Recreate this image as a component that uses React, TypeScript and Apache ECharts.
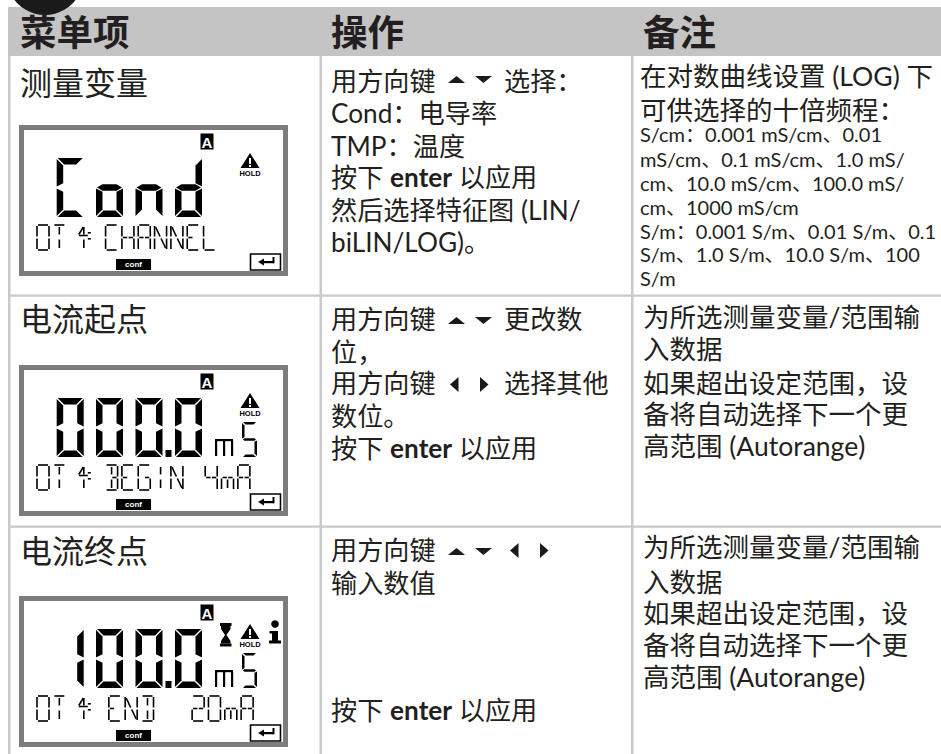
import React, { useEffect, useRef } from "react";
import * as echarts from "echarts";

const headers = ["菜单项", "操作", "备注"];
const itemNames = ["测量变量", "电流起点", "电流终点"];

const opRow1 = ["用方向键", "选择：", "Cond：电导率", "TMP：温度", "按下 {b|enter} 以应用", "然后选择特征图 (LIN/", "biLIN/LOG)。"];
const opRow2 = ["用方向键", "更改数", "位，", "用方向键", "选择其他", "数位。", "按下 {b|enter} 以应用"];
const opRow3 = ["用方向键", "输入数值", "按下 {b|enter} 以应用"];

const noteRow1Large = ["在对数曲线设置 (LOG) 下", "可供选择的十倍频程："];
const noteRow1Small = [
  "S/cm：0.001 mS/cm、0.01",
  "mS/cm、0.1 mS/cm、1.0 mS/",
  "cm、10.0 mS/cm、100.0 mS/",
  "cm、1000 mS/cm",
  "S/m：0.001 S/m、0.01 S/m、0.1",
  "S/m、1.0 S/m、10.0 S/m、100",
  "S/m",
];
const noteRange = ["为所选测量变量/范围输", "入数据", "如果超出设定范围，设", "备将自动选择下一个更", "高范围 (Autorange)"];

const bigChars = ["Cond", "0000", "1000"];
const smallLines: [string, number][][] = [
  [["O", 0], ["T", 1], ["1", 2.5], ["C", 4.2], ["H", 5.2], ["A", 6.2], ["N", 7.2], ["N", 8.2], ["E", 9.2], ["L", 10.2]],
  [["O", 0], ["T", 1], ["1", 2.5], ["B", 4.2], ["E", 5.2], ["G", 6.2], ["I", 7.2], ["N", 8.2], ["4", 10.3], ["m", 11.3], ["A", 12.3]],
  [["O", 0], ["T", 1], ["1", 2.5], ["E", 4.4], ["N", 5.4], ["D", 6.4], ["2", 9.5], ["0", 10.5], ["m", 11.5], ["A", 12.5]],
];

const INK = "#231f20";
const FONT = 'Lato,"Noto Sans CJK SC",sans-serif';
const RULE = "#c9c9c9";

const bigSegs: Record<string, string[]> = {
  C: ["a", "f", "e", "d"],
  o: ["g", "e", "c", "d"],
  n: ["g", "e", "c"],
  d: ["b", "c", "g", "e", "d"],
  "0": ["a", "b", "c", "d", "e", "f"],
  "1": ["b", "c"],
  S: ["a", "f", "g", "c", "d"],
};
const smallSegs: Record<string, string[]> = {
  O: ["a", "b", "c", "d", "e", "f"],
  "0": ["a", "b", "c", "d", "e", "f"],
  T: ["a", "j", "k"],
  "1": ["j", "k", "n", "p"],
  C: ["a", "f", "e", "d"],
  H: ["f", "e", "b", "c", "g", "h"],
  A: ["a", "f", "e", "b", "c", "g", "h"],
  N: ["f", "e", "b", "c", "q", "r"],
  E: ["a", "f", "e", "d", "g"],
  L: ["f", "e", "d"],
  B: ["a", "b", "c", "d", "h", "j", "k"],
  D: ["a", "b", "c", "d", "j", "k"],
  G: ["a", "f", "e", "d", "c", "h"],
  I: ["j", "k"],
  "4": ["f", "g", "h", "b", "c"],
  "2": ["a", "b", "g", "h", "e", "d"],
  m: ["g", "h", "e", "k", "c"],
};

function text(x: number, y: number, s: string, fontSize: number, extra: any = {}) {
  return {
    type: "text",
    x,
    y,
    silent: true,
    style: {
      text: s,
      fill: INK,
      fontSize,
      fontFamily: FONT,
      verticalAlign: "middle",
      rich: { b: { fontWeight: "bold", fontSize, fontFamily: FONT, fill: INK } },
      ...extra,
    },
  };
}
const rect = (x: number, y: number, width: number, height: number, fill: string) => ({
  type: "rect",
  silent: true,
  shape: { x, y, width, height },
  style: { fill },
});
const poly = (pts: number[][], fill = "#000") => ({
  type: "polygon",
  silent: true,
  shape: { points: pts },
  style: { fill },
});
const seg = (x1: number, y1: number, x2: number, y2: number, w = 1.6) => ({
  type: "line",
  silent: true,
  shape: { x1, y1, x2, y2 },
  style: { stroke: "#000", lineWidth: w },
});

function bigDigit(ch: string, x0: number, y0: number, w: number, h: number, t: number) {
  const m = h / 2;
  const shapes: Record<string, number[][]> = {
    a: [[1, 0], [w - 1, 0], [w - t - 1, t], [t + 1, t]],
    f: [[0, 1], [t, t + 1], [t, m - t / 2 - 1], [0, m - 1]],
    b: [[w, 1], [w - t, t + 1], [w - t, m - t / 2 - 1], [w, m - 1]],
    g: [[1, m], [t, m - t / 2], [w - t, m - t / 2], [w - 1, m], [w - t, m + t / 2], [t, m + t / 2]],
    e: [[0, m + 1], [t, m + t / 2 + 1], [t, h - t - 1], [0, h - 1]],
    c: [[w, m + 1], [w - t, m + t / 2 + 1], [w - t, h - t - 1], [w, h - 1]],
    d: [[t + 1, h - t], [w - t - 1, h - t], [w - 1, h], [1, h]],
  };
  return (bigSegs[ch] || []).map((k) => poly(shapes[k].map(([x, y]) => [x0 + x, y0 + y])));
}

function smallGlyph(ch: string, x: number, y: number) {
  const w = 12, h = 25, m = h / 2, c = w / 2;
  const lines: Record<string, number[]> = {
    a: [1, 0, w - 1, 0],
    f: [0, 1, 0, m - 1],
    b: [w, 1, w, m - 1],
    g: [1, m, c - 0.7, m],
    h: [c + 0.7, m, w - 1, m],
    e: [0, m + 1, 0, h - 1],
    c: [w, m + 1, w, h - 1],
    d: [1, h, w - 1, h],
    j: [c, 2, c, m - 3],
    k: [c, m + 2, c, h - 2],
    n: [c - 5, m - 3, c - 0.5, 2],
    p: [c - 5, m - 2, c + 4, m - 2],
    q: [1, 2, c - 0.5, m - 1],
    r: [c + 0.5, m + 1, w - 1, h - 2],
  };
  return (smallSegs[ch] || []).map((k) => {
    const l = lines[k];
    return seg(x + l[0], y + l[1], x + l[2], y + l[3]);
  });
}

function lcd(index: number, top: number) {
  const els: any[] = [];
  els.push({
    type: "rect",
    silent: true,
    shape: { x: 21.5, y: top + 2.5, width: 264, height: 146 },
    style: { fill: "#fff", stroke: "#7c7c7c", lineWidth: 5 },
  });
  const digitX = [56.7, 96, 135.5, 175];
  bigChars[index].split("").forEach((ch, i) => els.push(...bigDigit(ch, digitX[i], top + 33, 27, 59, 6.5)));
  if (index > 0) {
    els.push(rect(165.5, top + 85, 6, 7, "#000"));
    els.push(...bigDigit("S", 242, top + 57, 15, 35, 2.5));
    els.push(rect(215, top + 74, 18, 2.2, "#000"));
    els.push(rect(215, top + 76, 2.2, 15, "#000"));
    els.push(rect(223, top + 76, 2.2, 15, "#000"));
    els.push(rect(231, top + 76, 2.2, 15, "#000"));
  }
  smallLines[index].forEach(([ch, slot]) => {
    const x = 37 + slot * 16.33;
    els.push(...smallGlyph(ch, x, top + 100));
    if (ch === "1") {
      els.push(rect(x + 10, top + 107, 3, 1.6, "#000"));
      els.push(rect(x + 10, top + 113, 3, 1.6, "#000"));
    }
  });
  els.push(rect(200.5, top + 8.5, 13, 16, "#000"));
  els.push(text(207, top + 17, "A", 15, { fill: "#fff", fontWeight: "bold", align: "center", fontFamily: '"Liberation Sans",sans-serif' }));
  els.push(poly([[250, top + 28], [259.5, top + 43], [240.5, top + 43]]));
  els.push(rect(249, top + 33, 2, 6, "#fff"));
  els.push(rect(249, top + 40, 2, 2, "#fff"));
  els.push(text(250, top + 48, "HOLD", 7.5, { fill: "#000", fontWeight: "bold", align: "center", fontFamily: '"Liberation Sans",sans-serif' }));
  els.push(rect(116, top + 134, 35, 11, "#000"));
  els.push(text(133.5, top + 139.5, "conf", 8, { fill: "#fff", fontWeight: "bold", align: "center", fontFamily: '"Liberation Sans",sans-serif' }));
  els.push({
    type: "rect",
    silent: true,
    shape: { x: 250.5, y: top + 129, width: 30, height: 16 },
    style: { fill: "#fff", stroke: "#000", lineWidth: 1.6 },
  });
  els.push(poly([[258, top + 137], [264, top + 133.5], [264, top + 140.5]]));
  els.push(rect(263, top + 136, 11, 2.2, "#000"));
  els.push(rect(272.5, top + 132, 2, 6.2, "#000"));
  if (index === 2) {
    els.push(rect(220, top + 27, 11.5, 3, "#000"));
    els.push(rect(220, top + 47.5, 11.5, 3, "#000"));
    els.push(poly([[221, top + 30], [230.5, top + 30], [230.5, top + 33], [226.5, top + 39], [225, top + 39], [221, top + 33]]));
    els.push(poly([[225, top + 39], [226.5, top + 39], [230.5, top + 45], [230.5, top + 47.5], [221, top + 47.5], [221, top + 45]]));
    els.push({ type: "circle", silent: true, shape: { cx: 275, cy: top + 28, r: 3.8 }, style: { fill: "#000" } });
    els.push(rect(272, top + 35, 6, 12, "#000"));
    els.push(rect(269.5, top + 35, 4, 2.5, "#000"));
    els.push(rect(269, top + 44.5, 12, 3, "#000"));
  }
  return els;
}

const triUp = (x: number, y: number) => poly([[x + 8.5, y], [x + 17, y + 7], [x, y + 7]], "#1a1a1a");
const triDown = (x: number, y: number) => poly([[x, y], [x + 17, y], [x + 8.5, y + 7]], "#1a1a1a");
const triLeft = (x: number, y: number) => poly([[x + 8.5, y], [x + 8.5, y + 15], [x, y + 7.5]], "#1a1a1a");
const triRight = (x: number, y: number) => poly([[x, y], [x, y + 15], [x + 8.5, y + 7.5]], "#1a1a1a");

function buildElements() {
  const els: any[] = [];
  els.push(rect(8, 7, 933, 49, "#c4c4c4"));
  els.push({ type: "circle", silent: true, shape: { cx: 45, cy: -23.5, r: 38.5 }, style: { fill: "#1a1a1a" } });
  els.push(rect(8, 56, 2.5, 698, RULE));
  els.push(rect(319.5, 56, 2.5, 698, RULE));
  els.push(rect(631, 56, 2.5, 698, RULE));
  els.push(rect(8, 294.5, 933, 2.2, RULE));
  els.push(rect(8, 525.5, 933, 2.2, RULE));

  const headerX = [20, 331, 643];
  headers.forEach((h, i) => els.push(text(headerX[i], 32, h, 36.5, { fontWeight: "bold" })));

  const itemY = [82, 318, 550];
  itemNames.forEach((n, i) => els.push(text(20, itemY[i], n, 32)));

  [125, 365, 596].forEach((top, i) => els.push(...lcd(i, top)));

  const X2 = 331;
  els.push(text(X2, 81, opRow1[0], 26.2));
  els.push(triUp(448, 76), triDown(475, 76));
  els.push(text(504, 81, opRow1[1], 26.2));
  [113, 146, 177, 210, 242].forEach((y, i) => els.push(text(X2, y, opRow1[i + 2], 26.2)));

  els.push(text(X2, 319, opRow2[0], 26.2));
  els.push(triUp(448, 317), triDown(475, 317));
  els.push(text(504, 319, opRow2[1], 26.2));
  els.push(text(X2, 352, opRow2[2], 26.2));
  els.push(text(X2, 383, opRow2[3], 26.2));
  els.push(triLeft(450, 377), triRight(480, 377));
  els.push(text(504, 383, opRow2[4], 26.2));
  els.push(text(X2, 416, opRow2[5], 26.2));
  els.push(text(X2, 448, opRow2[6], 26.2));

  els.push(text(X2, 550, opRow3[0], 26.2));
  els.push(triUp(448, 548), triDown(475, 548));
  els.push(triLeft(510, 543), triRight(540, 543));
  els.push(text(X2, 583, opRow3[1], 26.2));
  els.push(text(X2, 710, opRow3[2], 26.2));

  [76, 110].forEach((y, i) => els.push(text(640, y, noteRow1Large[i], 26.5)));
  [134, 159, 183, 207, 231, 254, 278].forEach((y, i) => els.push(text(640, y, noteRow1Small[i], 20)));
  [317, 349, 383, 414, 446].forEach((y, i) => els.push(text(643, y, noteRange[i], 26.5)));
  [547, 582, 613, 645, 677].forEach((y, i) => els.push(text(643, y, noteRange[i], 26.5)));
  return els;
}

export default function App() {
  const ref = useRef<HTMLDivElement>(null);
  useEffect(() => {
    const chart = echarts.init(ref.current!, null, { renderer: "svg" });
    chart.setOption({ animation: false, backgroundColor: "#fff", graphic: { elements: buildElements() } });
    return () => chart.dispose();
  }, []);
  return <div ref={ref} style={{ position: "fixed", left: 0, top: 0, width: 941, height: 754 }} />;
}
